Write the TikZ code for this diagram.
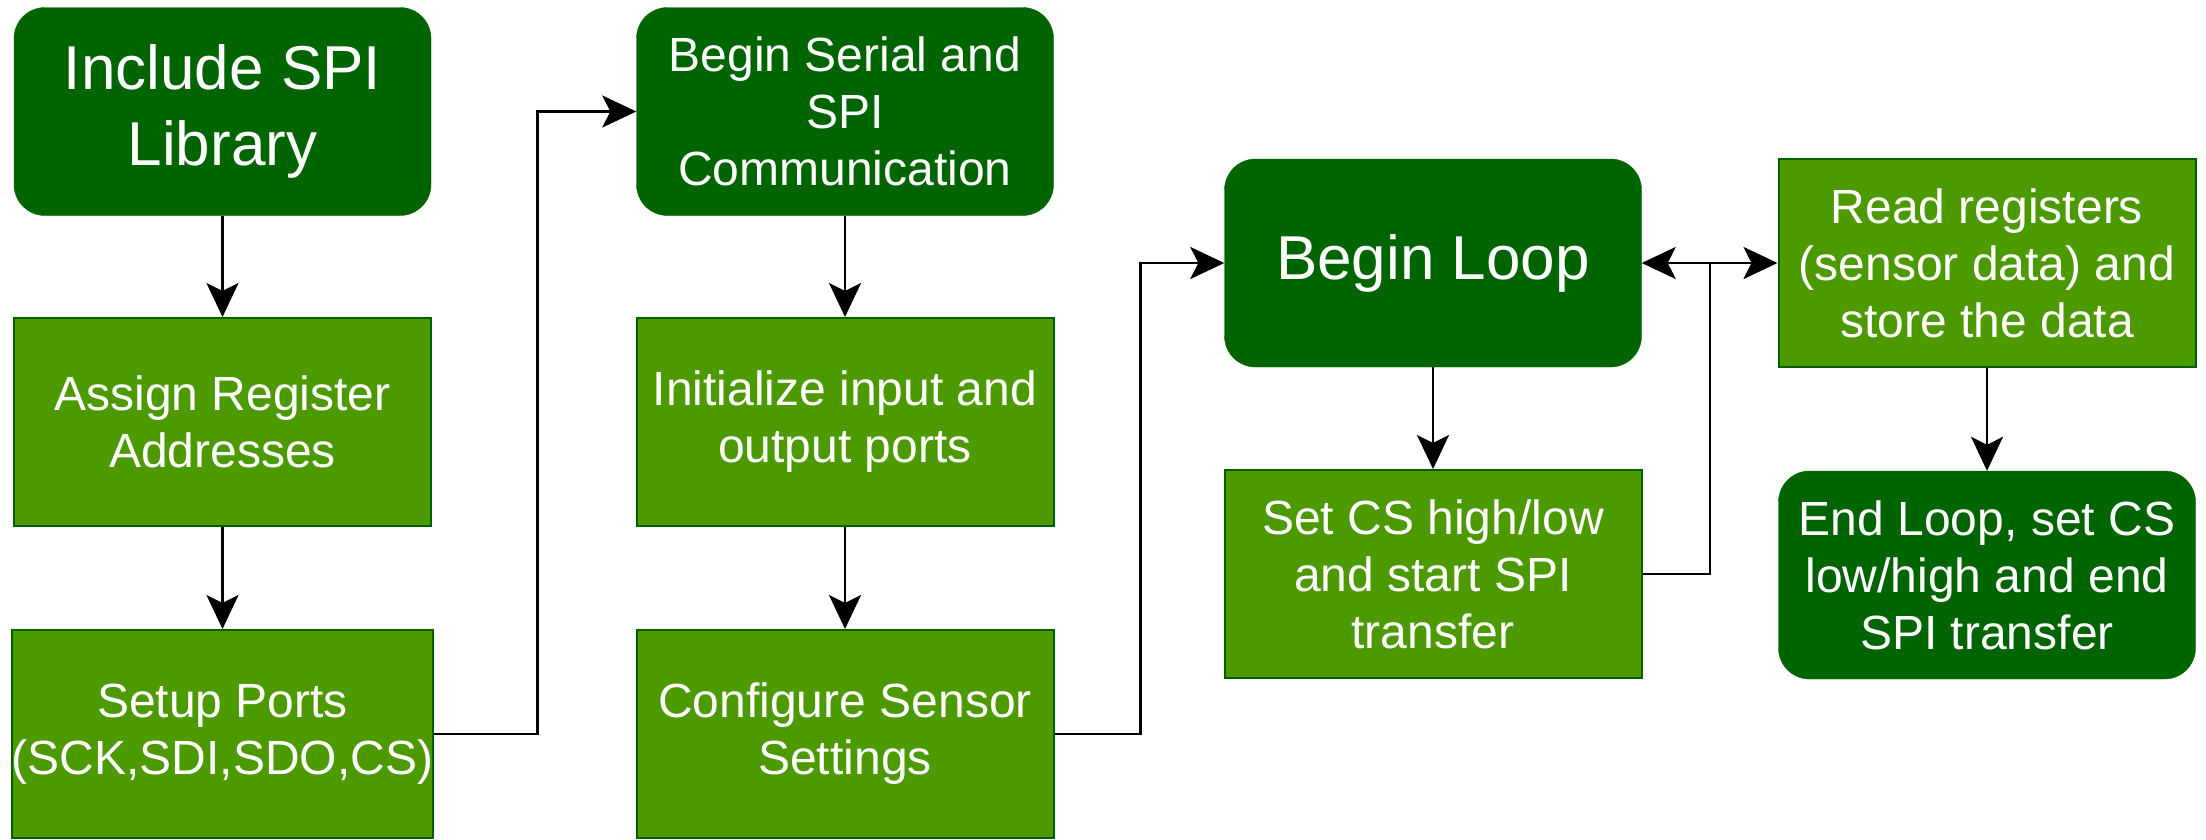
\documentclass[tikz,border=0pt]{standalone}
\usepackage{fontspec}
\setmainfont{Liberation Sans}
\usetikzlibrary{arrows.meta}
\definecolor{dkgreen}{RGB}{0,100,0}
\definecolor{ltgreen}{RGB}{77,153,0}
\definecolor{bdgreen}{RGB}{0,96,0}
\tikzset{
  box/.style={minimum width=417pt, minimum height=208pt, inner sep=0pt, align=center, text=white, font=\fontsize{48}{57}\selectfont},
  rbox/.style={box, fill=dkgreen, draw=dkgreen, rounded corners=31pt},
  sbox/.style={box, fill=ltgreen, draw=bdgreen, line width=2pt},
  bigtext/.style={font=\fontsize{62}{76}\selectfont},
  conn/.style={line width=2.8pt, -{Stealth[length=34pt,width=32pt,inset=8pt]}},
  plain/.style={line width=2.8pt}
}
\begin{document}
\begin{tikzpicture}[x=1pt,y=-1pt]
\useasboundingbox (0,0) rectangle (2206,839);
\fill[white] (0,0) rectangle (2206,839);
% column 1
\node[rbox,bigtext] (inc) at (222.5,111.5) {Include SPI\\Library};
\node[sbox] (asg) at (222.5,422) {Assign Register\\Addresses};
\node[sbox] (setup) at (222.5,734) {Setup Ports\\(SCK,SDI,SDO,CS)};
% column 2
\node[rbox] (serial) at (845,111.5) {Begin Serial and\\SPI\\Communication};
\node[sbox] (init) at (845,422) {Initialize input and\\output ports};
\node[sbox] (conf) at (845,734) {Configure Sensor\\Settings};
% column 3
\node[rbox,bigtext] (loop) at (1433,263) {Begin Loop};
\node[sbox] (setcs) at (1433,574) {Set CS high/low\\and start SPI\\transfer};
% column 4
\node[sbox] (read) at (1987,263) {Read registers\\(sensor data) and\\store the data};
\node[rbox] (endl) at (1987,575) {End Loop, set CS\\low/high and end\\SPI transfer};
\coordinate (j) at (1710,263);
% connectors
\draw[conn] (inc) -- (asg);
\draw[conn] (asg) -- (setup);
\draw[conn] (setup.east) -- ++(103,0) |- (serial.west);
\draw[conn] (serial) -- (init);
\draw[conn] (init) -- (conf);
\draw[conn] (conf.east) -- ++(86,0) |- (loop.west);
\draw[conn] (loop) -- (setcs);
\draw[plain] (setcs.east) -| (j);
\draw[conn] (j) -- (loop.east);
\draw[conn] (j) -- (read.west);
\draw[conn] (read) -- (endl);
\end{tikzpicture}
\end{document}
